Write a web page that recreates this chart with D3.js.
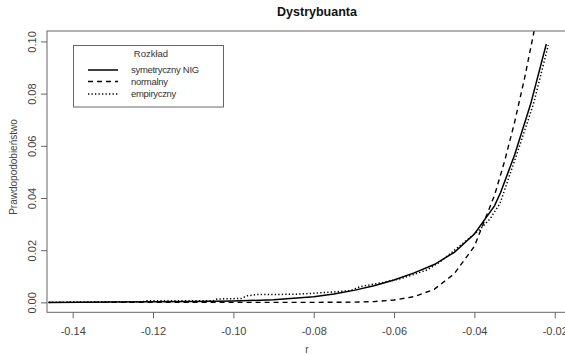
<!DOCTYPE html>
<html><head><meta charset="utf-8">
<script src="https://cdn.jsdelivr.net/npm/d3@7"></script>
<style>body{margin:0;background:#fff;} svg{display:block;} text{font-family:"Liberation Sans",Arial,sans-serif;}</style>
</head><body>
<svg id="c" width="565" height="355"></svg>
<script>
const title = "Dystrybuanta";
const xLabel = "r";
const yLabel = "Prawdopodobieństwo";
const legendTitle = "Rozkład";
const seriesNames = ["symetryczny NIG", "normalny", "empiryczny"];
const xTicks = [-0.14, -0.12, -0.10, -0.08, -0.06, -0.04, -0.02];
const yTicks = [0.00, 0.02, 0.04, 0.06, 0.08, 0.10];

const nigX = [-0.146,-0.13,-0.12,-0.11,-0.10,-0.09,-0.08,-0.075,-0.07,-0.065,-0.06,-0.055,-0.05,-0.045,-0.04,-0.035,-0.0335,-0.03,-0.026,-0.0221];
const nigY = [0.0000,0.0001,0.0002,0.0003,0.0005,0.0010,0.0022,0.0032,0.0046,0.0064,0.0086,0.0113,0.0145,0.0192,0.0262,0.0370,0.0420,0.0565,0.0760,0.0990];

const normX = [-0.146,-0.12,-0.10,-0.08,-0.07,-0.065,-0.06,-0.055,-0.05,-0.045,-0.04,-0.035,-0.0325,-0.03,-0.0275,-0.025,-0.0235];
const normY = [0.0000,0.0000,0.0000,0.0000,0.0001,0.0003,0.0009,0.0022,0.0050,0.0110,0.0215,0.0410,0.0540,0.0690,0.0860,0.1050,0.1180];

const empX = [-0.146,-0.135,-0.1225,-0.122,-0.105,-0.104,-0.098,-0.0967,-0.094,-0.085,-0.081,-0.075,-0.0709,-0.0685,-0.0635,-0.0585,-0.0518,-0.0485,-0.0428,-0.0386,-0.0361,-0.0336,-0.0294,-0.0253,-0.0216];
const empY = [0.0000,0.0002,0.0002,0.0006,0.0006,0.0013,0.0015,0.0025,0.0030,0.0031,0.0034,0.0040,0.0045,0.0060,0.0074,0.0090,0.0124,0.0156,0.0227,0.0280,0.0320,0.0380,0.0570,0.0760,0.0986];

const L = 47, R = 570, T = 31, B = 312.3;
const x = d3.scaleLinear().domain([-0.1464, -0.0162]).range([L, R]);
const y = d3.scaleLinear().domain([-0.0038, 0.104]).range([B, T]);

const svg = d3.select("#c");
const axisCol = "#666";

svg.append("defs").append("clipPath").attr("id","clip")
  .append("rect").attr("x",L).attr("y",T).attr("width",R-L).attr("height",B-T);

const line = d3.line().x(d=>x(d[0])).y(d=>y(d[1]));
const g = svg.append("g").attr("clip-path","url(#clip)");
const series = [
  {xs:nigX, ys:nigY, dash:null, w:1.5},
  {xs:normX, ys:normY, dash:"5,4", w:1.4},
  {xs:empX, ys:empY, dash:"1.3,2.2", w:1.5}
];
series.forEach(s=>{
  g.append("path").datum(s.xs.map((v,i)=>[v,s.ys[i]]))
    .attr("d",line).attr("fill","none").attr("stroke","#000")
    .attr("stroke-width",s.w).attr("stroke-dasharray",s.dash);
});

// box
svg.append("rect").attr("x",L).attr("y",T).attr("width",R-L).attr("height",B-T)
  .attr("fill","none").attr("stroke",axisCol).attr("stroke-width",1);

// x axis
const xa = svg.append("g").attr("transform",`translate(0,${B})`)
  .call(d3.axisBottom(x).tickValues(xTicks).tickSize(6).tickSizeOuter(0).tickFormat(d=>d.toFixed(2)));
xa.select(".domain").remove();
xa.selectAll("line").attr("stroke",axisCol);
xa.selectAll("text").attr("font-size","11px").attr("fill","#444").attr("dy","1.25em")
  .style("font-family","'Liberation Sans',Arial,sans-serif");

// y axis
const ya = svg.append("g").attr("transform",`translate(${L},0)`)
  .call(d3.axisLeft(y).tickValues(yTicks).tickSize(6).tickSizeOuter(0).tickFormat(d=>d.toFixed(2)));
ya.select(".domain").remove();
ya.selectAll("line").attr("stroke",axisCol);
ya.selectAll("text").attr("font-size","11px").attr("fill","#444")
  .attr("x",0).attr("dy",0).attr("text-anchor","middle")
  .attr("transform","translate(-11,0) rotate(-90)")
  .style("font-family","'Liberation Sans',Arial,sans-serif");

// title and labels
svg.append("text").attr("x",317).attr("y",15.5).attr("text-anchor","middle")
  .attr("font-size","12.5px").attr("font-weight","bold").attr("fill","#111").text(title);
svg.append("text").attr("x",307).attr("y",353).attr("text-anchor","middle")
  .attr("font-size","10px").attr("fill","#444").text(xLabel);
svg.append("text").attr("transform","translate(17,167) rotate(-90)").attr("text-anchor","middle")
  .attr("font-size","10px").attr("fill","#444").text(yLabel);

// legend
const lg = svg.append("g");
lg.append("rect").attr("x",73.5).attr("y",45.5).attr("width",150).attr("height",61.5)
  .attr("fill","#fff").attr("stroke",axisCol);
lg.append("text").attr("x",151).attr("y",57).attr("text-anchor","middle")
  .attr("font-size","9.5px").attr("fill","#333").text(legendTitle);
const ly = [70, 81.5, 94];
seriesNames.forEach((n,i)=>{
  lg.append("line").attr("x1",88).attr("x2",118).attr("y1",ly[i]).attr("y2",ly[i])
    .attr("stroke","#000").attr("stroke-width",series[i].w).attr("stroke-dasharray",series[i].dash);
  lg.append("text").attr("x",131).attr("y",ly[i]).attr("dy","0.35em")
    .attr("font-size","9.5px").attr("fill","#333").attr("letter-spacing","-0.3px").text(n);
});
</script>
</body></html>
